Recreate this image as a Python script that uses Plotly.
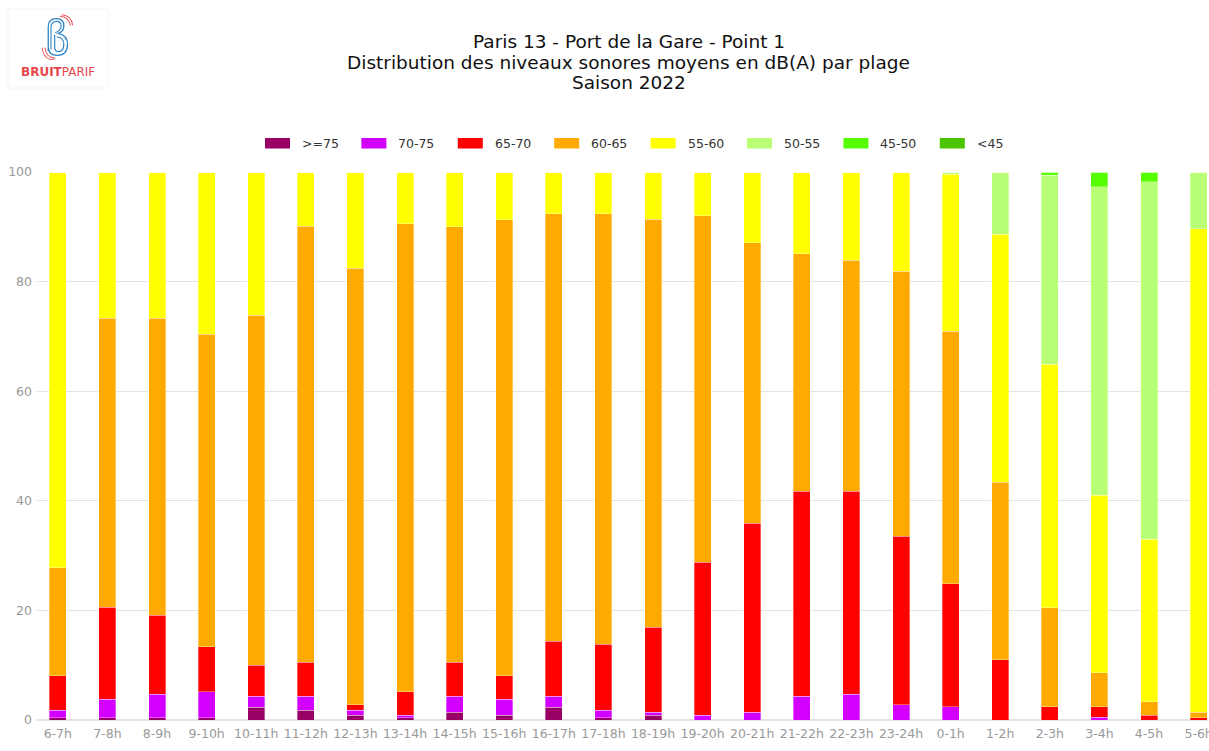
import base64
import plotly.graph_objects as go

# Hourly time slots
categories = ["6-7h", "7-8h", "8-9h", "9-10h", "10-11h", "11-12h", "12-13h", "13-14h",
              "14-15h", "15-16h", "16-17h", "17-18h", "18-19h", "19-20h", "20-21h",
              "21-22h", "22-23h", "23-24h", "0-1h", "1-2h", "2-3h", "3-4h", "4-5h", "5-6h"]

# Share of time (%) spent in each sound level band, per slot
ge75 = [0.4, 0.4, 0.4, 0.4, 2.3, 1.8, 0.9, 0.4, 1.4, 0.9, 2.3, 0.4, 0.9, 0, 0, 0,
        0, 0, 0, 0, 0, 0, 0, 0]
b70_75 = [1.4, 3.4, 4.3, 4.8, 2.0, 2.5, 0.9, 0.45, 2.9, 2.9, 2.0, 1.4, 0.5, 0.9, 1.4, 4.3,
          4.7, 2.8, 2.4, 0, 0, 0.5, 0, 0]
b65_70 = [6.3, 16.8, 14.4, 8.2, 5.7, 6.2, 1.0, 4.35, 6.2, 4.3, 10.1, 12.0, 15.5, 27.9, 34.5,
          37.4, 37.0, 30.7, 22.5, 11.0, 2.4, 1.9, 0.9, 0.4]
b60_65 = [19.7, 52.7, 54.2, 57.0, 63.9, 79.6, 79.6, 85.4, 79.5, 83.2, 78.0, 78.6, 74.5, 63.2,
          51.2, 43.4, 42.2, 48.4, 46.0, 32.4, 18.1, 6.2, 2.4, 1.0]
b55_60 = [72.2, 26.7, 26.7, 29.6, 26.1, 9.9, 17.6, 9.4, 10.0, 8.7, 7.6, 7.6, 8.6, 8.0, 12.9,
          14.9, 16.1, 18.1, 28.7, 45.2, 44.4, 32.4, 29.7, 88.2]
b50_55 = [0, 0, 0, 0, 0, 0, 0, 0, 0, 0, 0, 0, 0, 0, 0, 0, 0, 0, 0.4, 11.4, 34.5, 56.3, 65.2, 10.4]
b45_50 = [0, 0, 0, 0, 0, 0, 0, 0, 0, 0, 0, 0, 0, 0, 0, 0, 0, 0, 0, 0, 0.6, 2.7, 1.8, 0]
lt45 = [0] * 24

band_names = [">=75", "70-75", "65-70", "60-65", "55-60", "50-55", "45-50", "<45"]
band_values = [ge75, b70_75, b65_70, b60_65, b55_60, b50_55, b45_50, lt45]
band_colors = ["#990066", "#d400ff", "#ff0000", "#ffaa00", "#ffff00", "#b9ff75", "#55ff00", "#4cc400"]

title_lines = ["Paris 13 - Port de la Gare - Point 1",
               "Distribution des niveaux sonores moyens en dB(A) par plage",
               "Saison 2022"]

W, H = 1209, 751
ML, MT, MB = 37, 172, 31
PW = W - ML
PH = H - MT - MB


def px(x):
    return (x - ML) / PW


def py(y):
    return (H - MB - y) / PH


fig = go.Figure()
for name, vals, col in zip(band_names, band_values, band_colors):
    fig.add_trace(go.Bar(
        x=categories, y=vals, name=name, showlegend=False,
        marker=dict(color=col, line=dict(color="rgba(255,255,255,0.55)", width=0.6)),
    ))

# Legend drawn as wide swatches with labels
shapes = []
annotations = []
for i, (name, col) in enumerate(zip(band_names, band_colors)):
    x0 = 265 + i * 96.4
    shapes.append(dict(type="rect", xref="paper", yref="paper",
                       x0=px(x0), x1=px(x0 + 25), y0=py(148.5), y1=py(138),
                       fillcolor=col, line=dict(width=0)))
    annotations.append(dict(xref="paper", yref="paper", x=px(x0 + 35), y=py(143.5),
                            xanchor="left", yanchor="middle", showarrow=False,
                            text=name, font=dict(family="DejaVu Sans", size=12.5, color="#333333")))

# Title block, one line per annotation for tight line spacing
for line, yc in zip(title_lines, [42, 62.5, 83]):
    annotations.append(dict(
        xref="paper", yref="paper", x=px(628.5), y=py(yc), xanchor="center", yanchor="middle",
        showarrow=False, text=line,
        font=dict(family="DejaVu Sans", size=18.5, color="#111111")))

# Brand name under the logo mark
annotations.append(dict(
    xref="paper", yref="paper", x=px(58), y=py(72), xanchor="center", yanchor="middle",
    showarrow=False, text="<b>BRUIT</b>PARIF",
    font=dict(family="DejaVu Sans", size=12, color="#e5474c")))

# Logo frame
shapes.append(dict(type="rect", xref="paper", yref="paper",
                   x0=px(8), x1=px(108), y0=py(88), y1=py(9),
                   line=dict(color="#f3f3f3", width=1), fillcolor="rgba(0,0,0,0)"))

logo_svg = """<svg xmlns='http://www.w3.org/2000/svg' viewBox='0 0 36 50' width='36' height='50'>
<g fill='none' stroke-linecap='round'>
<path d='M9 40 L9 14 Q9 5 18 5 Q26 5 26 13 Q26 19 20 21 Q30 23 30 33 Q30 45 19 45 Q9 45 9 35' stroke='#2f84c6' stroke-width='1.4'/>
<path d='M12 38 L12 15 Q12 8 18 8 Q23 8 23 13 Q23 18 17 20' stroke='#2f84c6' stroke-width='1.2'/>
<path d='M16 23 L16 36 Q16 41 20 41 Q26 41 26 33 Q26 26 19 25' stroke='#2f84c6' stroke-width='1.3'/>
<path d='M22 2.5 Q31 3 33 12' stroke='#ec5a5e' stroke-width='1.2'/>
<path d='M24 0.8 Q34.5 2 35.5 12' stroke='#ec5a5e' stroke-width='1.1'/>
<path d='M5.5 37 Q6.5 47 16 48' stroke='#ec5a5e' stroke-width='1.2'/>
<path d='M2.5 37 Q3.5 50 16 50' stroke='#ec5a5e' stroke-width='1.1'/>
</g></svg>"""
logo_uri = "data:image/svg+xml;base64," + base64.b64encode(logo_svg.encode()).decode()

fig.update_layout(
    width=W, height=H,
    margin=dict(l=ML, r=0, t=MT, b=MB, autoexpand=False),
    paper_bgcolor="white", plot_bgcolor="white",
    barmode="stack", bargap=0.657,
    shapes=shapes, annotations=annotations,
    images=[dict(source=logo_uri, xref="paper", yref="paper",
                 x=px(40), y=py(14), sizex=33 / PW, sizey=46 / PH,
                 xanchor="left", yanchor="top", sizing="stretch", layer="above")],
    font=dict(family="DejaVu Sans", color="#999999"),
    xaxis=dict(range=[-0.42, -0.42 + PW / 49.6], showgrid=False, zeroline=False,
               showline=False, ticks="", tickfont=dict(size=12.5, color="#999999"),
               tickangle=0, ticklabelstandoff=4, fixedrange=True),
    yaxis=dict(range=[0, 100], tickvals=[0, 20, 40, 60, 80, 100], showgrid=True,
               gridcolor="#e3e3e3", gridwidth=1, zeroline=True, zerolinecolor="#e3e3e3",
               showline=False, ticks="", tickfont=dict(size=12.5, color="#999999"),
               ticklabelstandoff=4, fixedrange=True),
)

fig.write_html("out.html", config={"displayModeBar": False})
